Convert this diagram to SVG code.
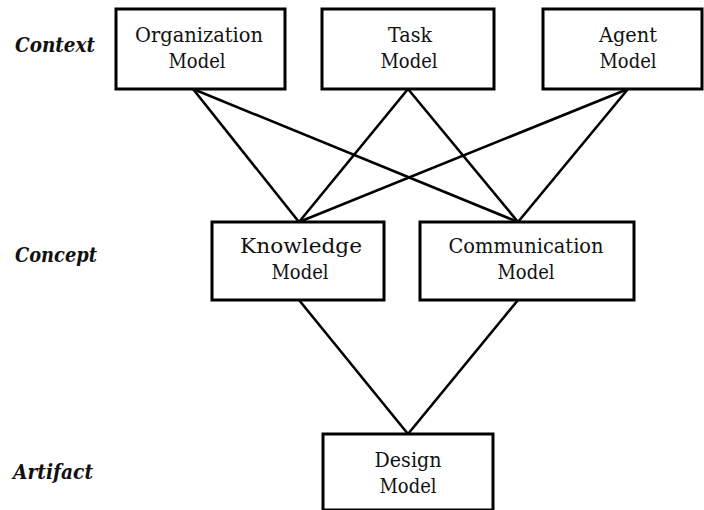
<svg xmlns="http://www.w3.org/2000/svg" width="704" height="510" viewBox="0 0 704 510">
<style>
.box{fill:#fff;stroke:#000;stroke-width:3}
.t{font-family:'DejaVu Serif','Liberation Serif',serif;font-size:21px;fill:#111;text-anchor:middle}
.lbl{font-family:'DejaVu Serif','Liberation Serif',serif;font-size:21px;font-weight:bold;font-style:italic;fill:#111}
.c line{stroke:#000;stroke-width:2.6}
</style>
<rect width="704" height="510" fill="#fff"/>
<g class="c" id="connectors">
<line x1="193" y1="89" x2="299" y2="222"/>
<line x1="193" y1="89" x2="518" y2="222"/>
<line x1="408" y1="89" x2="299" y2="222"/>
<line x1="408" y1="89" x2="518" y2="222"/>
<line x1="628" y1="89" x2="299" y2="222"/>
<line x1="628" y1="89" x2="518" y2="222"/>
<line x1="299" y1="300" x2="408" y2="434"/>
<line x1="518" y1="300" x2="408" y2="434"/>
</g>
<g id="labels">
<text class="lbl" x="15" y="52" textLength="80" lengthAdjust="spacingAndGlyphs">Context</text>
<text class="lbl" x="15" y="262" textLength="82" lengthAdjust="spacingAndGlyphs">Concept</text>
<text class="lbl" x="13" y="479" textLength="80" lengthAdjust="spacingAndGlyphs">Artifact</text>
</g>
<g id="organization">
<rect class="box" x="116" y="9" width="169" height="80"/>
<text class="t" x="199" y="42" textLength="128" lengthAdjust="spacingAndGlyphs">Organization</text>
<text class="t" x="197" y="68" textLength="57" lengthAdjust="spacingAndGlyphs">Model</text>
</g>
<g id="task">
<rect class="box" x="322" y="9" width="172" height="80"/>
<text class="t" x="410" y="42" textLength="44" lengthAdjust="spacingAndGlyphs">Task</text>
<text class="t" x="409" y="68" textLength="57" lengthAdjust="spacingAndGlyphs">Model</text>
</g>
<g id="agent">
<rect class="box" x="543" y="9" width="159" height="80"/>
<text class="t" x="628" y="42" textLength="58" lengthAdjust="spacingAndGlyphs">Agent</text>
<text class="t" x="628" y="68" textLength="57" lengthAdjust="spacingAndGlyphs">Model</text>
</g>
<g id="knowledge">
<rect class="box" x="212" y="222" width="172" height="78"/>
<text class="t" x="301" y="253" textLength="122" lengthAdjust="spacingAndGlyphs">Knowledge</text>
<text class="t" x="300" y="279" textLength="57" lengthAdjust="spacingAndGlyphs">Model</text>
</g>
<g id="communication">
<rect class="box" x="420" y="222" width="214" height="78"/>
<text class="t" x="526" y="253" textLength="155" lengthAdjust="spacingAndGlyphs">Communication</text>
<text class="t" x="526" y="279" textLength="57" lengthAdjust="spacingAndGlyphs">Model</text>
</g>
<g id="design">
<rect class="box" x="323" y="434" width="170" height="76"/>
<text class="t" x="408" y="467" textLength="67" lengthAdjust="spacingAndGlyphs">Design</text>
<text class="t" x="408" y="493" textLength="57" lengthAdjust="spacingAndGlyphs">Model</text>
</g>
</svg>
